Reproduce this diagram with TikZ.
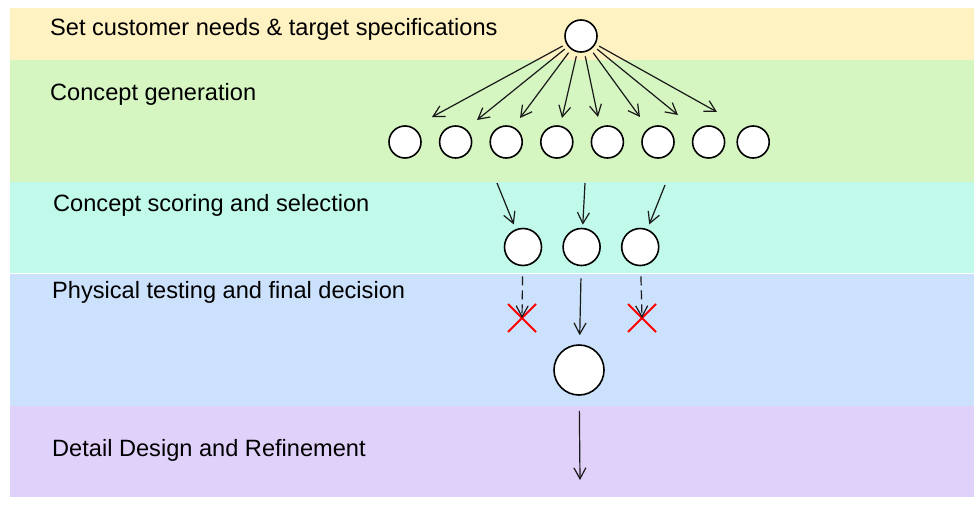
\documentclass[tikz,border=0pt]{standalone}
\usepackage{fontspec}
\setmainfont{Liberation Sans}
\usetikzlibrary{positioning,arrows.meta,shapes.misc}

\definecolor{needsbg}{HTML}{FFF2C2}
\definecolor{genbg}{HTML}{D5F5C1}
\definecolor{scorebg}{HTML}{C1FAEA}
\definecolor{testbg}{HTML}{CCE1FC}
\definecolor{detailbg}{HTML}{E0D1FA}

\begin{document}
\begin{tikzpicture}[x=1pt,y=-1pt,
  idea/.style={circle,draw,line width=1.6pt,fill=white,minimum size=32pt,inner sep=0pt},
  pick/.style={idea,minimum size=37pt},
  winner/.style={idea,minimum size=50pt},
  flow/.style={-{Straight Barb[length=11pt,width=12pt]},line width=1.2pt,draw=black!90},
  reject/.style={cross out,draw=red,line width=2pt,minimum size=26pt,inner sep=0pt},
  stage/.style={anchor=base west,inner sep=0pt,font=\fontsize{23.6}{28}\selectfont}]
\useasboundingbox (0,0) rectangle (974,506);

% Bands
\fill[needsbg]  (10,8)   rectangle (974,60);
\fill[genbg]    (10,60)  rectangle (974,182);
\fill[scorebg]  (10,182) rectangle (974,273);
\fill[testbg]   (10,274) rectangle (974,406);
\fill[detailbg] (10,406) rectangle (974,497);

\node[stage] (needs)  at (50,35)  {Set customer needs \& target specifications};
\node[stage] (gen)    at (50,100) {Concept generation};
\node[stage] (score)  at (53,211) {Concept scoring and selection};
\node[stage] (test)   at (52,298) {Physical testing and final decision};
\node[stage] (detail) at (52,456) {Detail Design and Refinement};

% Ideas
\node[idea] (top) at (581,36) {};
\node[idea] (c1) at (405,142) {};
\node[idea, right=17pt of c1] (c2) {};
\node[idea, right=17pt of c2] (c3) {};
\node[idea, right=17pt of c3] (c4) {};
\node[idea, right=17pt of c4] (c5) {};
\node[idea, right=17pt of c5] (c6) {};
\node[idea, right=17pt of c6] (c7) {};
\node[idea, right=11pt of c7] (c8) {};

% Selected concepts
\node[pick] (s1) at (523,247) {};
\node[pick, right=20pt of s1] (s2) {};
\node[pick, right=20pt of s2] (s3) {};

\node[reject] (x1) at (522,318) {};
\node[reject] (x3) at (642,318) {};
\node[winner] (best) at (579,370) {};

% Arrow ends
\coordinate (a1) at (432,117);
\coordinate (a2) at (477,120);
\coordinate (a3) at (520,118);
\coordinate (a4) at (562,118);
\coordinate (a5) at (598,117);
\coordinate (a6) at (640,117);
\coordinate (a7) at (678,115);
\coordinate (a8) at (717,112);
\coordinate (g1) at (497,183);
\coordinate (g2) at (585,183);
\coordinate (g3) at (665,185);
\coordinate (done) at (580,480);

% Connect the nodes
\foreach \i in {1,...,8}
  \draw[flow, shorten <=4pt] (top) -- (a\i);
\draw[flow, shorten >=5pt] (g1) -- (s1);
\draw[flow, shorten >=3pt] (g2) -- (s2);
\draw[flow, shorten >=5pt] (g3) -- (s3);
\draw[flow, dash pattern=on 9pt off 5pt, shorten <=10pt] (s1) -- (x1.center);
\draw[flow, dash pattern=on 9pt off 5pt, shorten <=10pt] (s3) -- (x3.center);
\draw[flow, shorten <=12pt, shorten >=9pt] (s2) -- (best);
\draw[flow, shorten <=15pt] (best) -- (done);
\end{tikzpicture}
\end{document}
